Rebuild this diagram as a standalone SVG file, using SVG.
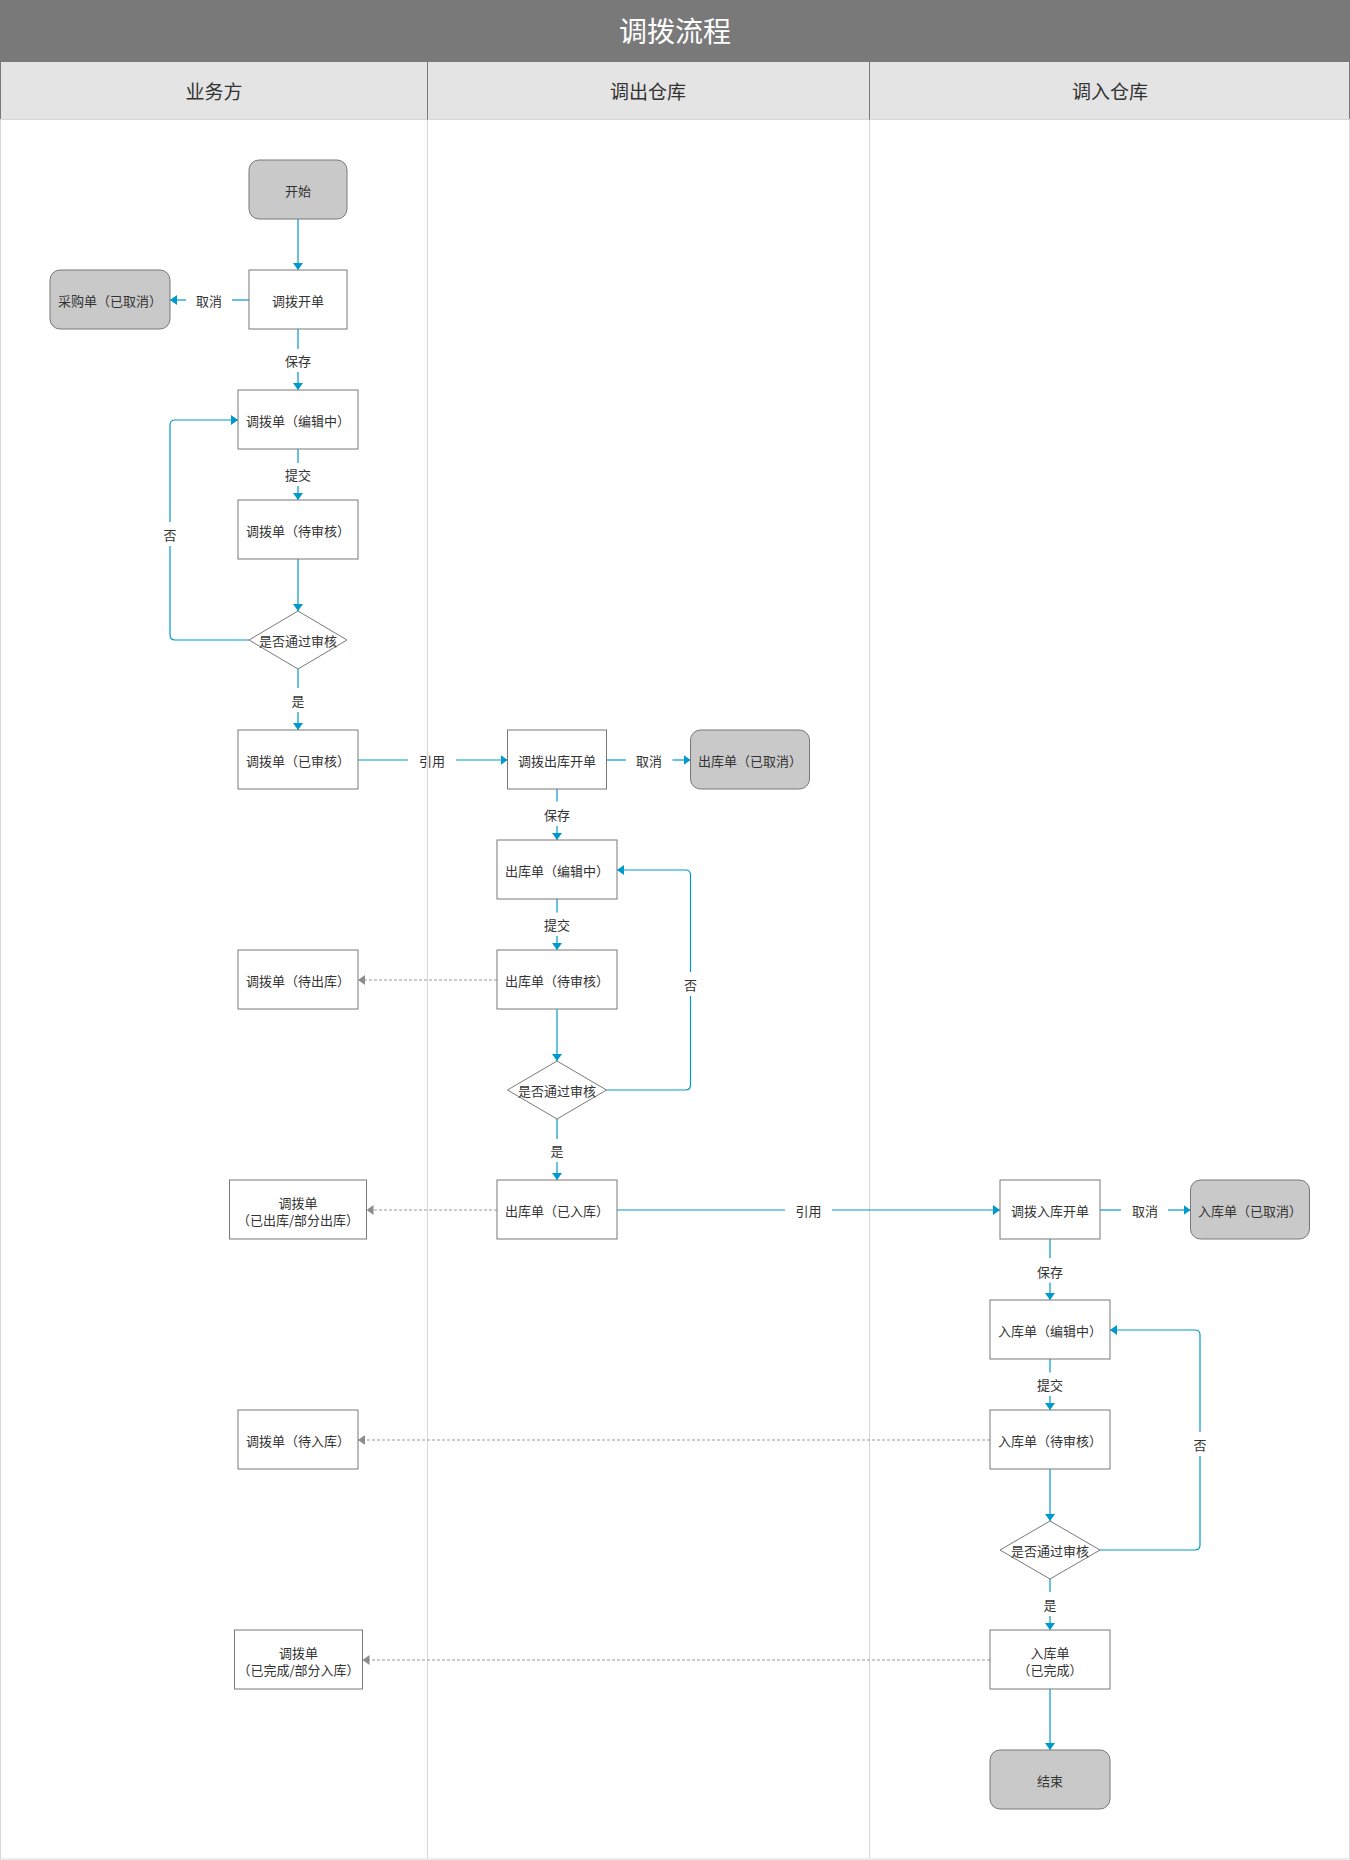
<svg xmlns="http://www.w3.org/2000/svg" width="1350" height="1860" viewBox="0 0 1350 1860">
<defs>
<style>
text{font-family:"Noto Sans CJK SC","Noto Sans",sans-serif;fill:#333333;font-size:13px;text-anchor:middle;dominant-baseline:central}
.title{fill:#ffffff;font-size:28px}
.lane{font-size:19px}
.box{fill:#ffffff;stroke:#797979;stroke-width:1}
.term{fill:#c9c9c9;stroke:#797979;stroke-width:1}
.dia{fill:#ffffff;stroke:#797979;stroke-width:1}
.flow{fill:none;stroke:#0099cc;stroke-width:1.2}
.arr{marker-end:url(#ab)}
.dash{fill:none;stroke:#999999;stroke-width:1;stroke-dasharray:3 2;marker-end:url(#ag)}
</style>
<marker id="ab" markerUnits="userSpaceOnUse" viewBox="0 0 7 10" markerWidth="7" markerHeight="10" refX="7" refY="5" orient="auto"><path d="M0,0 L7,5 L0,10 z" fill="#0099cc"/></marker>
<marker id="ag" markerUnits="userSpaceOnUse" viewBox="0 0 7 10" markerWidth="7" markerHeight="10" refX="7" refY="5" orient="auto"><path d="M0,0 L7,5 L0,10 z" fill="#8c8c8c"/></marker>
</defs>
<rect x="0" y="0" width="1350" height="1860" fill="#ffffff"/>
<g id="frame">
<rect x="0" y="0" width="1350" height="61" fill="#797979"/>
<text class="title" x="675" y="30">调拨流程</text>
<rect x="0.5" y="61.5" width="1349" height="58" fill="#e4e4e4" stroke="#797979"/>
<rect x="0.5" y="119.5" width="1349" height="1739.5" fill="none" stroke="#d7d7d7"/>
<line x1="427.5" y1="120" x2="427.5" y2="1859" stroke="#d7d7d7"/>
<line x1="869.5" y1="120" x2="869.5" y2="1859" stroke="#d7d7d7"/>
<line x1="427.5" y1="61.5" x2="427.5" y2="119.5" stroke="#797979"/>
<line x1="869.5" y1="61.5" x2="869.5" y2="119.5" stroke="#797979"/>
<text class="lane" x="214" y="90">业务方</text>
<text class="lane" x="648" y="90">调出仓库</text>
<text class="lane" x="1110" y="90">调入仓库</text>
</g>
<g id="connectors">
<path class="flow arr" d="M298,219 V270"/>
<path class="flow" d="M249,300 H232"/><path class="flow arr" d="M186,300 H170"/><text x="209" y="300">取消</text>
<path class="flow" d="M298,329 V349"/><path class="flow arr" d="M298,372 V390"/><text x="298" y="360">保存</text>
<path class="flow" d="M298,449 V463"/><path class="flow arr" d="M298,486 V500"/><text x="298" y="474">提交</text>
<path class="flow arr" d="M298,559 V611"/>
<path class="flow" d="M249,640 H175 Q170,640 170,635 V546"/><path class="flow arr" d="M170,522 V425 Q170,420 175,420 H238"/><text x="170" y="534">否</text>
<path class="flow" d="M298,669 V688"/><path class="flow arr" d="M298,712 V730"/><text x="298" y="700">是</text>
<path class="flow" d="M358,760 H408"/><path class="flow arr" d="M456,760 H507.5"/><text x="432" y="760">引用</text>
<path class="flow" d="M606.5,760 H626"/><path class="flow arr" d="M672.5,760 H690.5"/><text x="649" y="760">取消</text>
<path class="flow" d="M557,789 V801.5"/><path class="flow arr" d="M557,826 V840"/><text x="557" y="814">保存</text>
<path class="flow" d="M557,899 V912.5"/><path class="flow arr" d="M557,936 V950"/><text x="557" y="924">提交</text>
<path class="dash" d="M497,980 H358"/>
<path class="flow arr" d="M557,1009 V1061"/>
<path class="flow" d="M606.5,1090 H685.5 Q690.5,1090 690.5,1085 V996"/><path class="flow arr" d="M690.5,972 V875 Q690.5,870 685.5,870 H617"/><text x="690.5" y="984">否</text>
<path class="flow" d="M557,1119 V1139"/><path class="flow arr" d="M557,1162 V1180"/><text x="557" y="1150">是</text>
<path class="dash" d="M497,1210 H366.5"/>
<path class="flow" d="M617,1210 H785"/><path class="flow arr" d="M832,1210 H1000"/><text x="808.5" y="1210">引用</text>
<path class="flow" d="M1100,1210 H1121"/><path class="flow arr" d="M1168,1210 H1190.5"/><text x="1145" y="1210">取消</text>
<path class="flow" d="M1050,1239 V1258"/><path class="flow arr" d="M1050,1282.5 V1300"/><text x="1050" y="1271">保存</text>
<path class="flow" d="M1050,1359 V1372.5"/><path class="flow arr" d="M1050,1396 V1410"/><text x="1050" y="1384">提交</text>
<path class="dash" d="M990,1440 H358"/>
<path class="flow arr" d="M1050,1469 V1521"/>
<path class="flow" d="M1100,1550 H1195 Q1200,1550 1200,1545 V1456"/><path class="flow arr" d="M1200,1432 V1335 Q1200,1330 1195,1330 H1110"/><text x="1200" y="1444">否</text>
<path class="flow" d="M1050,1579 V1592"/><path class="flow arr" d="M1050,1616 V1630"/><text x="1050" y="1604">是</text>
<path class="dash" d="M990,1660 H362.5"/>
<path class="flow arr" d="M1050,1689 V1750"/>
</g>
<g id="start"><rect class="term" x="249" y="160" width="98" height="59" rx="10"/><text x="298" y="190">开始</text></g>
<g id="tb-open"><rect class="box" x="249" y="270" width="98" height="59"/><text x="298" y="300">调拨开单</text></g>
<g id="po-cancel"><rect class="term" x="50" y="270" width="120" height="59" rx="10"/><text x="110" y="300">采购单（已取消）</text></g>
<g id="tb-edit"><rect class="box" x="238" y="390" width="120" height="59"/><text x="298" y="420">调拨单（编辑中）</text></g>
<g id="tb-pending"><rect class="box" x="238" y="500" width="120" height="59"/><text x="298" y="530">调拨单（待审核）</text></g>
<g id="d1"><polygon class="dia" points="298,611 347,640 298,669 249,640"/><text x="298" y="640">是否通过审核</text></g>
<g id="tb-approved"><rect class="box" x="238" y="730" width="120" height="59"/><text x="298" y="760">调拨单（已审核）</text></g>
<g id="out-open"><rect class="box" x="507.5" y="730" width="99" height="59"/><text x="557" y="760">调拨出库开单</text></g>
<g id="out-cancel"><rect class="term" x="690.5" y="730" width="119" height="59" rx="10"/><text x="750" y="760">出库单（已取消）</text></g>
<g id="out-edit"><rect class="box" x="497" y="840" width="120" height="59"/><text x="557" y="870">出库单（编辑中）</text></g>
<g id="out-pending"><rect class="box" x="497" y="950" width="120" height="59"/><text x="557" y="980">出库单（待审核）</text></g>
<g id="tb-wait-out"><rect class="box" x="238" y="950" width="120" height="59"/><text x="298" y="980">调拨单（待出库）</text></g>
<g id="d2"><polygon class="dia" points="557,1061 606.5,1090 557,1119 507.5,1090"/><text x="557" y="1090">是否通过审核</text></g>
<g id="out-done"><rect class="box" x="497" y="1180" width="120" height="59"/><text x="557" y="1210">出库单（已入库）</text></g>
<g id="tb-out"><rect class="box" x="229.5" y="1180" width="137" height="59"/><text x="298"><tspan x="298" y="1201.5">调拨单</tspan><tspan x="298" y="1218.5">（已出库/部分出库）</tspan></text></g>
<g id="in-open"><rect class="box" x="1000" y="1180" width="100" height="59"/><text x="1050" y="1210">调拨入库开单</text></g>
<g id="in-cancel"><rect class="term" x="1190.5" y="1180" width="119" height="59" rx="10"/><text x="1250" y="1210">入库单（已取消）</text></g>
<g id="in-edit"><rect class="box" x="990" y="1300" width="120" height="59"/><text x="1050" y="1330">入库单（编辑中）</text></g>
<g id="in-pending"><rect class="box" x="990" y="1410" width="120" height="59"/><text x="1050" y="1440">入库单（待审核）</text></g>
<g id="tb-wait-in"><rect class="box" x="238" y="1410" width="120" height="59"/><text x="298" y="1440">调拨单（待入库）</text></g>
<g id="d3"><polygon class="dia" points="1050,1521 1100,1550 1050,1579 1000,1550"/><text x="1050" y="1550">是否通过审核</text></g>
<g id="in-done"><rect class="box" x="990" y="1630" width="120" height="59"/><text x="1050"><tspan x="1050" y="1651.5">入库单</tspan><tspan x="1050" y="1668.5">（已完成）</tspan></text></g>
<g id="tb-in-done"><rect class="box" x="234.5" y="1630" width="128" height="59"/><text x="298.5"><tspan x="298.5" y="1651.5">调拨单</tspan><tspan x="298.5" y="1668.5">（已完成/部分入库）</tspan></text></g>
<g id="end"><rect class="term" x="990" y="1750" width="120" height="59" rx="10"/><text x="1050" y="1780">结束</text></g>
</svg>
